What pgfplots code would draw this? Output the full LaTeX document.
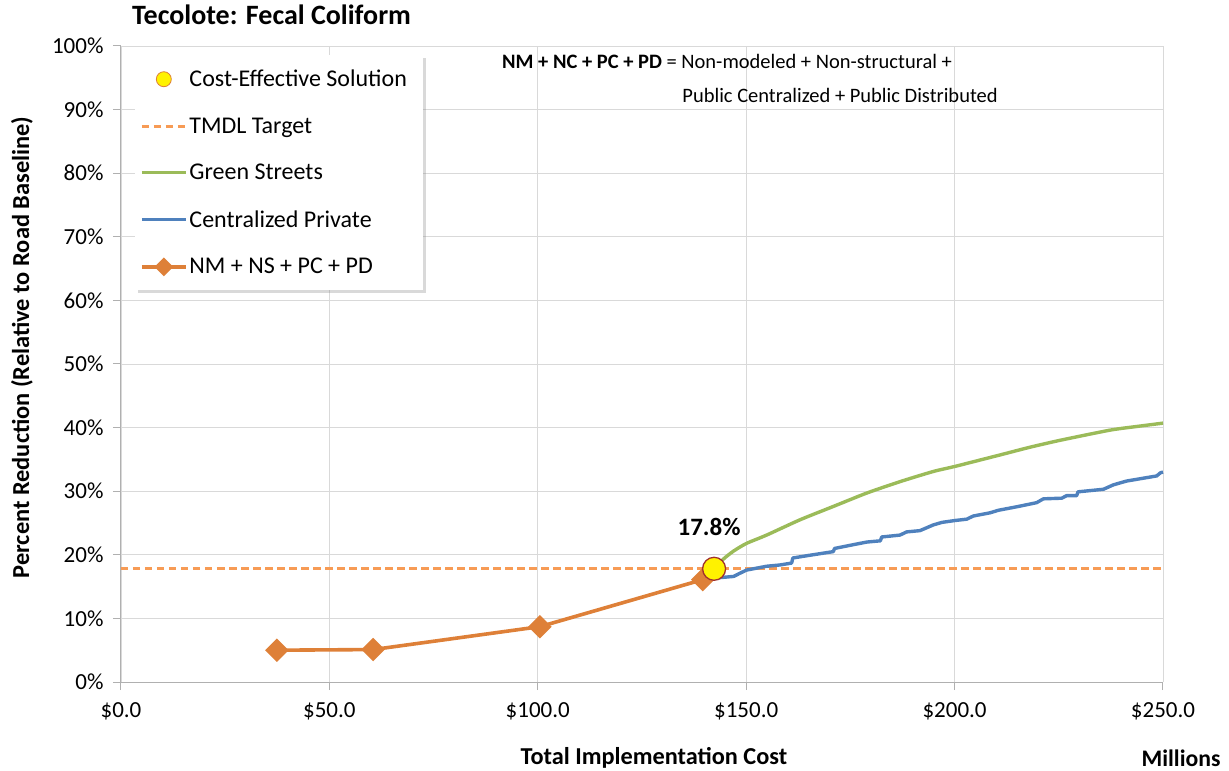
\documentclass[border=0pt]{standalone}
\usepackage{fontspec}
\setmainfont{Carlito}
\usepackage{pgfplots}
\pgfplotsset{compat=1.18}
\usetikzlibrary{shadows}
\definecolor{cOrange}{HTML}{DE8038}
\definecolor{cTmdl}{HTML}{F79B55}
\definecolor{cGreen}{HTML}{9BBB59}
\definecolor{cBlue}{HTML}{4F81BD}
\definecolor{cGrid}{HTML}{D9D9D9}
\definecolor{cAxis}{HTML}{B0B0B0}
\definecolor{cEdge}{HTML}{A0302D}
\begin{document}
\begin{tikzpicture}
\begin{axis}[
  at={(0,0)}, anchor=south west,
  scale only axis, width=1042bp, height=636bp,
  xmin=0, xmax=250, ymin=0, ymax=100,
  xtick={0,50,...,250}, ytick={0,10,...,100},
  grid=major, major grid style={cGrid, line width=0.9bp},
  axis x line*=bottom, axis y line*=left,
  axis line style={cAxis, line width=1bp},
  tick style={cAxis, line width=1bp}, tick align=outside, major tick length=8bp,
  /pgf/number format/assume math mode=true,
  xticklabel={\$\pgfmathprintnumber[fixed,fixed zerofill,precision=1]{\tick}},
  yticklabel={\pgfmathprintnumber{\tick}\%},
  tick label style={font=\fontsize{23bp}{27bp}\selectfont, black},
  xticklabel style={yshift=-9bp},
  yticklabel style={xshift=-6bp},
  clip=false,
  legend cell align=left,
  legend style={at={(axis description cs:0.0182,0.9655)}, anchor=north west,
    draw=none, fill=none, inner sep=0pt,
    font=\fontsize{24bp}{28bp}\selectfont, row sep=25.5bp, column sep=0pt},
  legend image code/.code={\draw[mark repeat=2,mark phase=2,#1] plot coordinates {(0bp,0bp)(22bp,0bp)(44bp,0bp)};},
]
% legend background with shadow
\fill[white, drop shadow={shadow xshift=3bp, shadow yshift=-3bp, opacity=0.3}]
  (axis description cs:0.0134,0.6164) rectangle (axis description cs:0.2898,0.9858);

\addlegendimage{only marks, mark=*, mark size=7.5bp, mark options={fill=yellow, draw=cOrange, line width=0.8bp}}
\addlegendentry{Cost-Effective Solution}
\addlegendimage{cTmdl, line width=2.7bp, dash pattern=on 7.5bp off 4.5bp}
\addlegendentry{TMDL Target}
\addlegendimage{cGreen, line width=3.3bp}
\addlegendentry{Green Streets}
\addlegendimage{cBlue, line width=3.3bp}
\addlegendentry{Centralized Private}
\addlegendimage{cOrange, line width=3.3bp, mark=square*, mark size=5bp, mark options={rotate=45, solid}}
\addlegendentry{NM + NS + PC + PD}

% TMDL target
\addplot[forget plot, cTmdl, line width=2.7bp, dash pattern=on 7.5bp off 4.5bp] coordinates {(0,17.8) (250,17.8)};

% Centralized Private
\addplot[forget plot, cBlue, line width=3.4bp, line join=round] coordinates {
(142.3,16.8) (143.5,16.4) (147,16.6) (148.5,17.1) (150.1,17.6) (154.9,18.2) (158.1,18.4) (160.9,18.7) (161.2,19.5) (165,19.9) (170.9,20.5) (171.2,21.0) (175,21.5) (178.9,22.0) (182.2,22.2) (182.5,22.8) (186.9,23.1) (188.5,23.6) (191.7,23.8) (194.9,24.7) (197,25.1) (200.2,25.4) (202.9,25.6) (204.5,26.1) (207.7,26.5) (208.5,26.6) (210.5,27.0) (215.3,27.6) (219.7,28.2) (221.3,28.8) (225.7,28.9) (226.9,29.3) (229.3,29.3) (229.6,29.9) (235.7,30.3) (238.1,31.0) (241.3,31.6) (248.5,32.4) (249.4,32.9) (250,33.0)
};

% Green Streets
\addplot[forget plot, cGreen, line width=3.4bp, line join=round, smooth, tension=0.4] coordinates {
(142.3,17.6) (144.5,19.3) (147,20.6) (150.1,21.8) (154.9,23.1) (162.9,25.5) (170.9,27.6) (178.9,29.7) (186.9,31.5) (194.9,33.1) (200.1,33.9) (210.9,35.7) (218,36.9) (225.3,38.0) (237.3,39.6) (244,40.2) (250,40.7)
};

% NM + NS + PC + PD
\addplot[forget plot, cOrange, line width=3.6bp, mark=square*, mark size=6.5bp, mark options={rotate=45, solid}, mark indices={1,2,3,4}] coordinates {
(37.4,5.0) (60.5,5.1) (100.5,8.7) (139.6,16.1) (142.3,17.6)
};

% Cost-effective solution
\addplot[forget plot, only marks, mark=*, mark size=11.5bp, mark options={fill=yellow, draw=cEdge, line width=1.3bp}] coordinates {(142.3,17.8)};

\node[inner sep=0pt, font=\bfseries\fontsize{25bp}{30bp}\selectfont] at (axis cs:141.1,24.4) {17.8\%};

\node[inner sep=0pt, anchor=west, font=\fontsize{20.5bp}{24bp}\selectfont] at (axis cs:91.4,97.5) {\textbf{NM + NC + PC + PD} = Non-modeled + Non-structural +};
\node[inner sep=0pt, anchor=east, font=\fontsize{20.5bp}{24bp}\selectfont] at (axis cs:210.4,92.3) {Public Centralized + Public Distributed};

\node[inner sep=0pt, anchor=west, font=\bfseries\fontsize{28bp}{33bp}\selectfont] at (axis description cs:0.0106,1.0485) {Tecolote: Fecal Coliform};
\node[inner sep=0pt, font=\bfseries\fontsize{24.3bp}{29bp}\selectfont] at (axis description cs:0.5115,-0.1195) {Total Implementation Cost};
\node[inner sep=0pt, font=\bfseries\fontsize{23.7bp}{28bp}\selectfont] at (axis description cs:1.0173,-0.1195) {Millions};
\node[inner sep=0pt, rotate=90, font=\bfseries\fontsize{24.4bp}{29bp}\selectfont] at (axis description cs:-0.095,0.526) {Percent Reduction (Relative to Road Baseline)};
\end{axis}
\path[use as bounding box] (-121bp,-89bp) rectangle (1108bp,682bp);
\end{tikzpicture}
\end{document}
